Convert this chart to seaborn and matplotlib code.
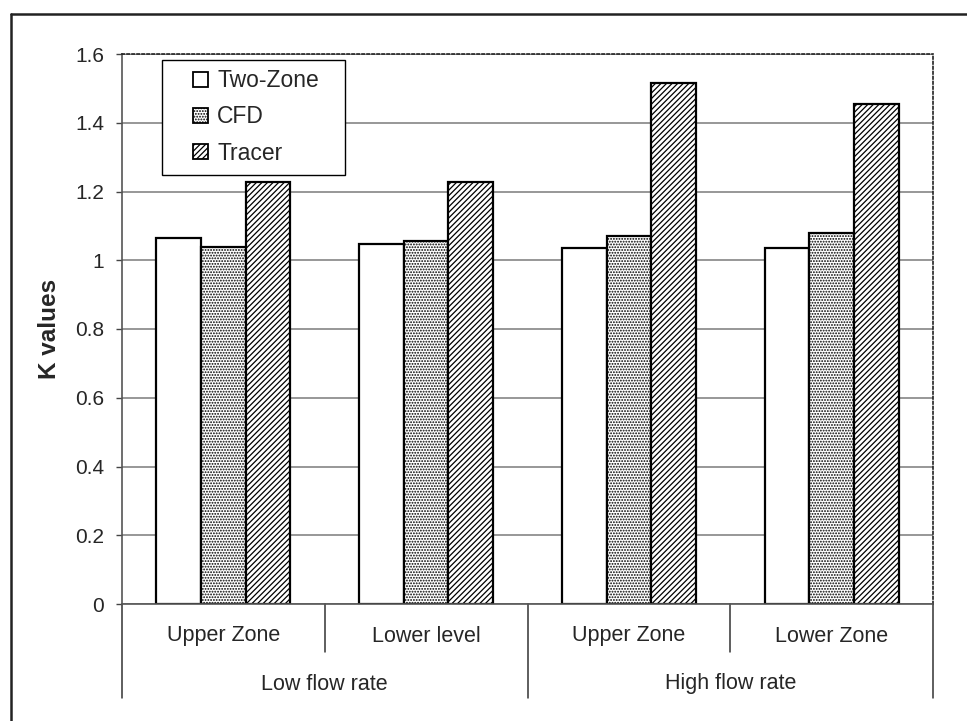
import matplotlib
matplotlib.use("Agg")
import matplotlib.pyplot as plt
from matplotlib.lines import Line2D
from matplotlib.patches import Rectangle
from matplotlib.legend_handler import HandlerPatch
import seaborn as sns
import pandas as pd

# Data ---------------------------------------------------------------
flow_rates = ["Low flow rate", "High flow rate"]
zones = ["Upper Zone", "Lower level", "Upper Zone", "Lower Zone"]
methods = ["Two-Zone", "CFD", "Tracer"]
two_zone = [1.065, 1.047, 1.036, 1.037]
cfd = [1.040, 1.055, 1.070, 1.080]
tracer = [1.227, 1.228, 1.517, 1.455]
y_ticks = [0, 0.2, 0.4, 0.6, 0.8, 1, 1.2, 1.4, 1.6]
y_tick_labels = ["0", "0.2", "0.4", "0.6", "0.8", "1", "1.2", "1.4", "1.6"]

case_ids = [f"{flow_rates[i // 2]} / {z}" for i, z in enumerate(zones)]
df = pd.DataFrame({
    "case": case_ids * 3,
    "method": sum([[m] * len(case_ids) for m in methods], []),
    "K": two_zone + cfd + tracer,
})

# Style ------------------------------------------------------------------
sns.set_theme(style="white")
plt.rcParams["font.family"] = ["Liberation Sans", "DejaVu Sans"]
plt.rcParams["hatch.linewidth"] = 0.9
plt.rcParams["hatch.color"] = "black"

fig = plt.figure(figsize=(9.67, 7.21), dpi=100)
ax_w, ax_h = 933 - 122, 604 - 54
ax = fig.add_axes([122 / 967, 1 - 604 / 721, ax_w / 967, ax_h / 721])

sns.barplot(
    data=df, x="case", y="K", hue="method", order=case_ids, hue_order=methods,
    palette=["white"] * 3, width=0.66, gap=0, edgecolor="black", linewidth=1.6,
    legend=False, ax=ax,
)

hatches = ["", "......", "//////"]
for container, h in zip(ax.containers, hatches):
    for bar in container:
        bar.set_hatch(h)
        bar.set_edgecolor("black")

# Axes, grid and spines ------------------------------------------------------
ax.set_xlim(-0.5, 3.5)
ax.set_ylim(0, 1.6)
ax.set_yticks(y_ticks)
ax.set_yticklabels(y_tick_labels, fontsize=15)
ax.set_xticks([])
ax.set_xlabel("")
ax.set_ylabel("K values", fontsize=17.5, fontweight="bold", labelpad=10)
ax.tick_params(axis="y", left=True, length=4, width=1, color="#444444", pad=9)
ax.yaxis.grid(True, color="#7a7a7a", linewidth=1.1, linestyle="-")
ax.set_axisbelow(True)

for side in ["top", "right"]:
    ax.spines[side].set_visible(True)
    ax.spines[side].set_linestyle((0, (1.5, 1.5)))
    ax.spines[side].set_color("#222222")
    ax.spines[side].set_linewidth(1.2)
for side in ["left", "bottom"]:
    ax.spines[side].set_linestyle((0, (3, 1)))
    ax.spines[side].set_color("#555555")
    ax.spines[side].set_linewidth(1.2)

# Two-level category axis drawn underneath the plot --------------------------------
xt = ax.get_xaxis_transform()
inner_depth = -48 / ax_h
outer_depth = -94 / ax_h
for xb in [-0.5, 1.5, 3.5]:
    ax.plot([xb, xb], [0, outer_depth], transform=xt, clip_on=False,
            color="#333333", linewidth=1.1)
for xb in [0.5, 2.5]:
    ax.plot([xb, xb], [0, inner_depth], transform=xt, clip_on=False,
            color="#333333", linewidth=1.1)
for i, z in enumerate(zones):
    ax.text(i, -32 / ax_h, z, transform=xt, ha="center", va="center", fontsize=15.5)
for j, fr in enumerate(flow_rates):
    ax.text(2 * j + 0.5, -80 / ax_h, fr, transform=xt, ha="center", va="center",
            fontsize=15.5)


# Legend: small square swatches at the right end of the handle box
def square_swatch(legend, orig_handle, xdescent, ydescent, width, height, fontsize):
    side = height
    return Rectangle((width - side - xdescent, -ydescent + (height - side) / 2),
                     side, side)


# Legend box frame (wider than the entries, as in a spreadsheet-style legend)
ax.add_patch(Rectangle((40 / ax_w, 1 - 121 / ax_h), 183 / ax_w, 115 / ax_h,
                       transform=ax.transAxes, facecolor="white", edgecolor="black",
                       linewidth=1.0, zorder=4.5, clip_on=False))

handles = [c.patches[0] for c in ax.containers]
leg = ax.legend(
    handles, methods, loc="upper left", bbox_to_anchor=(40 / ax_w, 1 - 6 / ax_h),
    fontsize=16.5, frameon=False,
    handlelength=1.6, handleheight=0.62, handletextpad=0.4,
    labelspacing=0.58, borderpad=0.4, borderaxespad=0,
    handler_map={Rectangle: HandlerPatch(patch_func=square_swatch)},
)
for hnd in leg.legend_handles:
    hnd.set_linewidth(1.3)

# Outer frame lines on the figure -------------------------------------------------
fig.add_artist(Line2D([11 / 967, 11 / 967], [0, 1 - 14 / 721],
                      transform=fig.transFigure, color="#222222", linewidth=1.8))
fig.add_artist(Line2D([11 / 967, 1], [1 - 14 / 721, 1 - 14 / 721],
                      transform=fig.transFigure, color="#222222", linewidth=1.8))

fig.savefig("out.png", dpi=100, facecolor="white")
